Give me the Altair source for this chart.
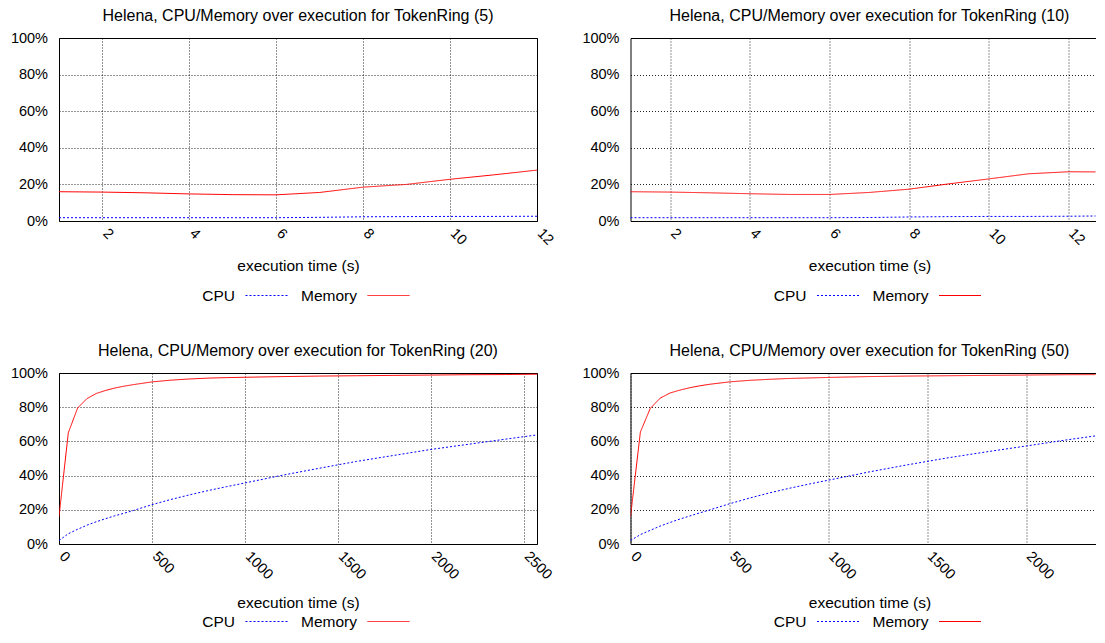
import altair as alt
import pandas as pd

FONT = "Liberation Sans"
TITLE = 16    # panel titles
TXT = 15.5    # legend, axis title
TICK = 14.5   # tick labels
FULL_W = 478  # nominal plot width (panels on the right are cut by the page edge)

panel_titles = [
    "Helena, CPU/Memory over execution for TokenRing (5)",
    "Helena, CPU/Memory over execution for TokenRing (10)",
    "Helena, CPU/Memory over execution for TokenRing (20)",
    "Helena, CPU/Memory over execution for TokenRing (50)",
]
series_names = ["CPU", "Memory"]
series_colors = ["#0000ff", "#ff0000"]
series_dashes = [[2, 2], [1, 0]]
x_title = "execution time (s)"
y_ticks = [0, 20, 40, 60, 80, 100]

# TokenRing (5)
t5 = [1, 2, 3, 4, 5, 6, 7, 8, 9, 10, 11, 12]
cpu5 = [1.8, 1.8, 1.8, 1.8, 1.8, 1.8, 2.0, 2.3, 2.4, 2.5, 2.5, 2.6]
mem5 = [16.0, 15.8, 15.4, 14.8, 14.4, 14.3, 15.6, 18.5, 20.0, 22.8, 25.2, 27.8]
x5_ticks = [2, 4, 6, 8, 10, 12]
x5_domain = [1, 12]

# TokenRing (10)
t10 = [1, 2, 3, 4, 5, 6, 7, 8, 9, 10, 11, 12, 13]
cpu10 = [1.8, 1.8, 1.8, 1.8, 1.8, 1.8, 1.9, 2.2, 2.4, 2.5, 2.5, 2.6, 2.8]
mem10 = [16.0, 15.8, 15.4, 14.9, 14.5, 14.5, 15.6, 17.4, 20.3, 23.0, 25.8, 26.9, 26.8]
x10_ticks = [2, 4, 6, 8, 10, 12]
x10_domain = [1, 12.68]   # visible part of the panel (cut by the page edge)

# TokenRing (20)
t20 = [0, 50, 100, 150, 200, 250, 300, 350, 400, 500, 600, 700, 800, 900, 1000,
       1200, 1400, 1600, 1800, 2000, 2200, 2400, 2570]
cpu20 = [2.0, 6.0, 8.6, 11.0, 13.0, 14.8, 16.5, 18.0, 19.6, 23.0, 26.0, 28.7, 31.2,
         33.5, 35.7, 40.2, 44.3, 48.3, 51.8, 55.3, 58.3, 61.3, 63.8]
mem20 = [16.0, 65.0, 79.5, 85.0, 88.0, 89.8, 91.2, 92.3, 93.2, 94.8, 95.8, 96.5, 97.0,
         97.3, 97.5, 97.9, 98.2, 98.4, 98.6, 98.8, 99.0, 99.1, 99.3]
x20_ticks = [0, 500, 1000, 1500, 2000, 2500]
x20_domain = [0, 2570]

# TokenRing (50)
t50 = [0, 50, 100, 150, 200, 250, 300, 350, 400, 500, 600, 700, 800, 900, 1000,
       1200, 1400, 1600, 1800, 2000, 2200, 2412]
cpu50 = [2.0, 5.5, 8.0, 10.5, 12.6, 14.6, 16.4, 18.2, 19.9, 23.5, 26.8, 29.8, 32.5,
         35.0, 37.3, 42.0, 46.3, 50.3, 53.9, 57.3, 60.8, 64.2]
mem50 = [16.0, 65.5, 79.3, 85.3, 88.3, 90.0, 91.4, 92.5, 93.4, 94.8, 95.7, 96.3, 96.8,
         97.1, 97.4, 97.9, 98.2, 98.4, 98.6, 98.8, 99.0, 99.1]
x50_ticks = [0, 500, 1000, 1500, 2000]
x50_domain = [0, 2351]    # visible part of the panel (cut by the page edge)


def panel(title, t, cpu, mem, domain, ticks, width, height, title_y, legend_y, right_border):
    df = pd.DataFrame({
        "t": list(t) + list(t),
        "v": list(cpu) + list(mem),
        "s": [series_names[0]] * len(t) + [series_names[1]] * len(t),
    })
    legend = alt.Legend(
        title=None, orient="none", legendX=186, legendY=legend_y,
        direction="horizontal", symbolType="stroke", symbolSize=1764,
        symbolStrokeWidth=1, labelAlign="right", labelOffset={"expr": "-53"},
        columnPadding=11, labelFont=FONT, labelFontSize=TXT, labelColor="#000",
    )
    xscale = alt.Scale(domain=domain, nice=False, zero=False)
    yscale = alt.Scale(domain=[0, 100], nice=False)
    lines = alt.Chart(df).mark_line(clip=True, strokeWidth=1).encode(
        x=alt.X("t:Q", scale=xscale,
                axis=alt.Axis(values=ticks, title=x_title, format="d", labelAngle=45,
                              labelAlign="left", labelBaseline="middle",
                              labelPadding=10, labelOffset=2,
                              titleX=FULL_W / 2, titleAlign="center",
                              titleY=title_y, titleBaseline="alphabetic")),
        y=alt.Y("v:Q", scale=yscale,
                axis=alt.Axis(values=y_ticks, title=None,
                              labelExpr="datum.value + '%'", labelPadding=11.5)),
        color=alt.Color("s:N", scale=alt.Scale(domain=series_names, range=series_colors),
                        legend=legend),
        strokeDash=alt.StrokeDash("s:N", scale=alt.Scale(domain=series_names, range=series_dashes),
                                  legend=legend),
    )
    # invisible (and clipped) layer that only carries the top (and right) frame lines
    frame_y_axis = (alt.Axis(orient="right", labels=False, grid=False, ticks=False,
                             domain=True, title=None)
                    if right_border else None)
    frame = alt.Chart(df).mark_line(strokeOpacity=0, clip=True).encode(
        x=alt.X("t:Q", axis=alt.Axis(orient="top", labels=False, grid=False,
                                      ticks=False, domain=True, title=None)),
        y=alt.Y("v:Q", axis=frame_y_axis),
    )
    return alt.layer(lines, frame).resolve_axis(
        x="independent", y="independent"
    ).properties(
        width=width, height=height,
        title=alt.TitleParams(title, fontSize=TITLE, font=FONT, fontWeight="normal",
                              anchor="middle", frame="group", offset=-7,
                              dx=(FULL_W - width) / 2,
                              baseline="alphabetic", color="#000"),
    )


W_RIGHT = 465
p1 = panel(panel_titles[0], t5, cpu5, mem5, x5_domain, x5_ticks, FULL_W, 183, 49.5, 236, True)
p2 = panel(panel_titles[1], t10, cpu10, mem10, x10_domain, x10_ticks, W_RIGHT, 183, 49.5, 236, False)
p3 = panel(panel_titles[2], t20, cpu20, mem20, x20_domain, x20_ticks, FULL_W, 171, 63, 227, True)
p4 = panel(panel_titles[3], t50, cpu50, mem50, x50_domain, x50_ticks, W_RIGHT, 171, 63, 227, False)

chart = alt.concat(
    p1, p2, p3, p4, columns=2, spacing={"row": 152, "column": 93.5}, bounds="flush"
).resolve_scale(
    color="independent", strokeDash="independent"
).resolve_legend(
    color="independent", strokeDash="independent"
).properties(
    padding={"left": 1, "top": -1, "right": 0, "bottom": 0}
).configure(
    font=FONT,
).configure_view(
    stroke="transparent",
).configure_axis(
    labelFont=FONT, labelFontSize=TICK, labelColor="#000",
    titleFont=FONT, titleFontSize=TXT, titleFontWeight="normal", titleColor="#000",
    domainColor="#000", domainWidth=1, ticks=False, tickSize=0,
    gridColor="#000", gridDash=[1, 2], gridOpacity=0.85, gridWidth=1,
)

chart.save("out.html", embed_options={"renderer": "svg", "actions": False})
